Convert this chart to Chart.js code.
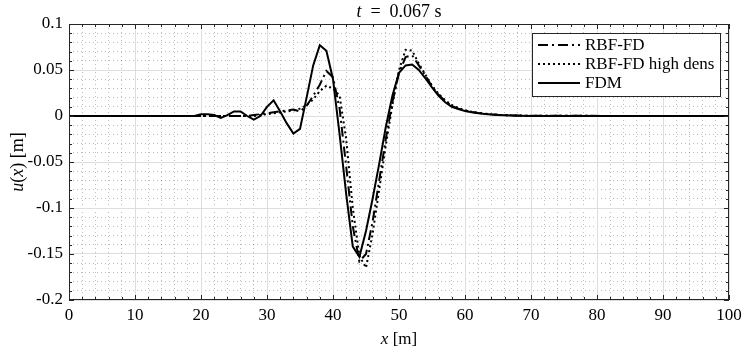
<!DOCTYPE html>
<html>
<head>
<meta charset="utf-8">
<script src="https://cdn.jsdelivr.net/npm/chart.js@4.4.1/dist/chart.umd.min.js"></script>
<style>
  html, body { margin: 0; padding: 0; background: #fff; }
</style>
</head>
<body>
<canvas id="chart" width="747" height="355"></canvas>
<script>
// Tick labels
const xTicks = [0, 10, 20, 30, 40, 50, 60, 70, 80, 90, 100];
const yTicks = [-0.2, -0.15, -0.1, -0.05, 0, 0.05, 0.1];

// FDM (solid)
const fdmX = [0, 19, 20, 21, 22, 23, 24, 25, 26, 27, 28, 29, 30, 31, 32, 33, 34, 35, 36, 37, 38, 39,
  40, 41, 42, 43, 44, 45, 46, 47, 48, 49, 50, 51, 52, 53, 54, 55, 56, 57, 58, 59,
  60, 61, 62, 63, 64, 65, 66, 67, 68, 70, 100];
const fdmY = [0, 0, 0.002, 0.002, 0.001, -0.002, 0.001, 0.005, 0.005, 0, -0.004, 0.0, 0.01, 0.017, 0.005, -0.008, -0.019, -0.014, 0.02, 0.055, 0.077, 0.071,
  0.04, -0.02, -0.085, -0.142, -0.153, -0.125, -0.09, -0.052, -0.012, 0.022, 0.047, 0.055, 0.056, 0.05, 0.041, 0.031, 0.022, 0.015, 0.01, 0.0075,
  0.0055, 0.004, 0.003, 0.0022, 0.0016, 0.0012, 0.0009, 0.0006, 0.0004, 0, 0];

// RBF-FD (dash-dot)
const rbfX = [0, 27, 28, 29, 30, 31, 32, 33, 34, 35, 36, 37, 38, 39,
  40, 41, 42, 43, 44, 45, 46, 47, 48, 49, 50, 51, 52, 53, 54, 55, 56, 57, 58, 59,
  60, 61, 62, 63, 64, 65, 66, 67, 68, 70, 100];
const rbfY = [0, 0, 0.001, 0.002, 0.003, 0.004, 0.005, 0.006, 0.007, 0.005, 0.011, 0.022, 0.034, 0.049,
  0.042, 0.008, -0.055, -0.12, -0.158, -0.15, -0.115, -0.07, -0.025, 0.015, 0.047, 0.064, 0.066, 0.055, 0.044, 0.032, 0.023, 0.016, 0.011, 0.008,
  0.006, 0.0045, 0.0034, 0.0025, 0.0018, 0.0013, 0.001, 0.0007, 0.0005, 0.0002, 0];

// RBF-FD high dens (dotted)
const hdX = [0, 28, 29, 30, 31, 32, 33, 34, 35, 36, 37, 38, 39,
  40, 41, 42, 43, 44, 45, 46, 47, 48, 49, 50, 51, 52, 53, 54, 55, 56, 57, 58, 59,
  60, 61, 62, 63, 64, 65, 66, 67, 68, 70, 100];
const hdY = [0, 0, 0.001, 0.002, 0.003, 0.004, 0.005, 0.006, 0.008, 0.012, 0.018, 0.027, 0.033,
  0.03, 0.022, -0.025, -0.1, -0.152, -0.165, -0.128, -0.08, -0.032, 0.012, 0.05, 0.072, 0.071, 0.057, 0.045, 0.033, 0.024, 0.017, 0.012, 0.0085,
  0.0062, 0.0046, 0.0034, 0.0025, 0.0018, 0.0013, 0.001, 0.0007, 0.0005, 0.0002, 0];

const FONT = '"Liberation Serif", "Times New Roman", serif';
const AXIS_COLOR = '#262626';
const MINOR_COLOR = 'rgba(38,38,38,0.3)';

function pts(xs, ys) {
  return xs.map((x, i) => ({ x: x, y: ys[i] }));
}

// draws text made of [string, italic] parts, centred on (cx, cy)
function drawRich(ctx, parts, cx, cy, size) {
  let total = 0;
  parts.forEach(p => {
    ctx.font = (p[1] ? 'italic ' : '') + size + 'px ' + FONT;
    total += ctx.measureText(p[0]).width;
  });
  let xx = cx - total / 2;
  ctx.textAlign = 'left';
  ctx.textBaseline = 'middle';
  parts.forEach(p => {
    ctx.font = (p[1] ? 'italic ' : '') + size + 'px ' + FONT;
    ctx.fillText(p[0], xx, cy);
    xx += ctx.measureText(p[0]).width;
  });
}

// Box, inward ticks, titles and legend
const decorPlugin = {
  id: 'decor',
  afterDatasetsDraw(chart) {
    const ctx = chart.ctx;
    const a = chart.chartArea;
    const x = chart.scales.x, y = chart.scales.y;
    ctx.save();
    ctx.strokeStyle = AXIS_COLOR;
    ctx.lineWidth = 1;
    ctx.beginPath();
    for (let v = xTicks[0]; v <= xTicks[xTicks.length - 1]; v += 2) {
      const px = Math.round(x.getPixelForValue(v)) + 0.5;
      const len = v % 10 === 0 ? 5 : 3;
      ctx.moveTo(px, a.bottom); ctx.lineTo(px, a.bottom - len);
      ctx.moveTo(px, a.top); ctx.lineTo(px, a.top + len);
    }
    for (let i = -20; i <= 10; i++) {
      const py = Math.round(y.getPixelForValue(i / 100)) + 0.5;
      const len = i % 5 === 0 ? 5 : 3;
      ctx.moveTo(a.left, py); ctx.lineTo(a.left + len, py);
      ctx.moveTo(a.right, py); ctx.lineTo(a.right - len, py);
    }
    ctx.stroke();
    ctx.strokeRect(Math.round(a.left) + 0.5, Math.round(a.top) + 0.5,
      Math.round(a.right - a.left) - 1, Math.round(a.bottom - a.top) - 1);
    ctx.restore();
  },
  afterDraw(chart) {
    const ctx = chart.ctx;
    const a = chart.chartArea;
    const cx = (a.left + a.right) / 2;
    ctx.save();
    ctx.fillStyle = '#000';
    drawRich(ctx, [['t', true], ['\u2002=\u20020.067 s', false]], cx, 12, 18);
    drawRich(ctx, [['x', true], [' [m]', false]], cx, 340, 17);
    ctx.save();
    ctx.translate(18, (a.top + a.bottom) / 2);
    ctx.rotate(-Math.PI / 2);
    drawRich(ctx, [['u', true], ['(', false], ['x', true], [') [m]', false]], 0, 0, 18);
    ctx.restore();

    // legend
    const lx = 532, ly = 33, lw = 188, lh = 63;
    ctx.fillStyle = '#fff';
    ctx.fillRect(lx, ly, lw, lh);
    ctx.strokeStyle = AXIS_COLOR;
    ctx.lineWidth = 1;
    ctx.strokeRect(lx + 0.5, ly + 0.5, lw, lh);
    const rowY = [45, 64, 83];
    chart.data.datasets.forEach((ds, i) => {
      ctx.strokeStyle = '#000';
      ctx.lineWidth = ds.borderWidth;
      ctx.setLineDash(ds.borderDash || []);
      ctx.beginPath();
      ctx.moveTo(538, rowY[i]);
      ctx.lineTo(580, rowY[i]);
      ctx.stroke();
      ctx.setLineDash([]);
      ctx.fillStyle = '#000';
      ctx.font = '17px ' + FONT;
      ctx.textAlign = 'left';
      ctx.textBaseline = 'middle';
      ctx.fillText(ds.label, 585, rowY[i] + 1);
    });
    ctx.restore();
  }
};

new Chart(document.getElementById('chart'), {
  type: 'line',
  data: {
    datasets: [
      { label: 'RBF-FD', data: pts(rbfX, rbfY), borderColor: '#000', borderWidth: 2,
        borderDash: [10, 4, 2, 4], pointRadius: 0, tension: 0, order: 3 },
      { label: 'RBF-FD high dens', data: pts(hdX, hdY), borderColor: '#000', borderWidth: 2,
        borderDash: [2, 3], pointRadius: 0, tension: 0, order: 2 },
      { label: 'FDM', data: pts(fdmX, fdmY), borderColor: '#000', borderWidth: 2,
        pointRadius: 0, tension: 0, order: 1 }
    ]
  },
  options: {
    responsive: false,
    animation: false,
    events: [],
    layout: { padding: { left: 0, right: 18, top: 24, bottom: 0 } },
    plugins: { legend: { display: false }, tooltip: { enabled: false }, title: { display: false } },
    scales: {
      xMinor: {
        type: 'linear', position: 'bottom', min: 0, max: 100,
        ticks: { display: false, stepSize: 2 },
        grid: {
          drawTicks: false,
          color: c => (c.tick && Math.round(c.tick.value) % 10 === 0) ? 'rgba(0,0,0,0)' : MINOR_COLOR
        },
        border: { display: false, dash: [1, 3] },
        afterFit: s => { s.height = 0; }
      },
      yMinor: {
        type: 'linear', position: 'left', min: -0.2, max: 0.1,
        ticks: { display: false, stepSize: 0.01 },
        grid: {
          drawTicks: false,
          color: c => (c.tick && Math.round(c.tick.value * 100) % 5 === 0) ? 'rgba(0,0,0,0)' : MINOR_COLOR
        },
        border: { display: false, dash: [1, 3] },
        afterFit: s => { s.width = 0; }
      },
      x: {
        type: 'linear', position: 'bottom',
        min: xTicks[0], max: xTicks[xTicks.length - 1],
        afterBuildTicks: s => { s.ticks = xTicks.map(v => ({ value: v })); },
        ticks: { color: '#000', font: { family: FONT, size: 17 }, padding: 5, maxRotation: 0, autoSkip: false },
        grid: { color: 'rgb(222,222,222)', drawTicks: false },
        border: { display: false },
        afterFit: s => { s.height = 55; }
      },
      y: {
        type: 'linear', position: 'left',
        min: yTicks[0], max: yTicks[yTicks.length - 1],
        afterBuildTicks: s => { s.ticks = yTicks.map(v => ({ value: v })); },
        ticks: {
          color: '#000', font: { family: FONT, size: 17 }, padding: 6, autoSkip: false,
          callback: v => String(parseFloat(Number(v).toFixed(3)))
        },
        grid: { color: 'rgb(222,222,222)', drawTicks: false },
        border: { display: false },
        afterFit: s => { s.width = 69; }
      }
    }
  },
  plugins: [decorPlugin]
});
</script>
</body>
</html>
